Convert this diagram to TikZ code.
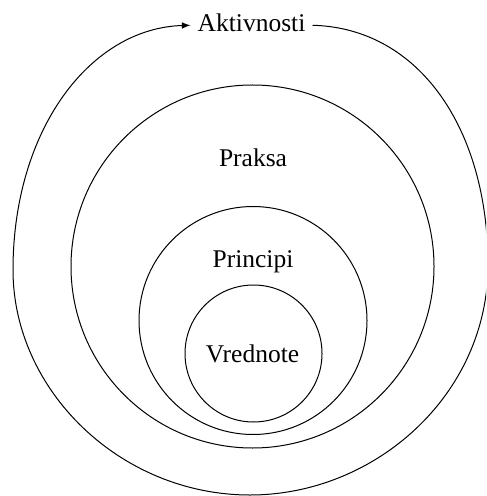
\documentclass[tikz,border=0pt]{standalone}
\usepackage{fontspec}
\setmainfont{Liberation Serif}
\usepackage{tikz}

\begin{document}
\begin{tikzpicture}[x=0.5pt,y=-0.5pt,line width=0.5pt,
        lbl/.style={font=\fontsize{12.75}{15}\selectfont, anchor=base}]
        \useasboundingbox (0,0) rectangle (486,496);
        \clip (0,0) rectangle (486,496);
        \draw[radius=181.5](252.5,266.5) circle;
        \draw[radius=114](253,320.5) circle;
        \draw[radius=68.5](253.5,353.5) circle;
        \node[lbl] (akt) at (251.5,32){Aktivnosti};
        \node[lbl] (praksa) at (253,167){Praksa};
        \node[lbl] (principi) at (253,267){Principi};
        \node[lbl] (vrednote) at (252.5,362){Vrednote};
        \coordinate (r) at (488,265);
        \coordinate (b) at (250,495);
        \coordinate (l) at (13,270);
        \draw[-latex]([yshift=-1pt]akt.east) .. controls (420,28) and (488,130) .. (r)
            .. controls (488,395) and (375,495) .. (b)
            .. controls (120,495) and (13,390) .. (l)
            .. controls (13,130) and (90,28) .. ([yshift=-1pt]akt.west);
    \end{tikzpicture}
\end{document}
